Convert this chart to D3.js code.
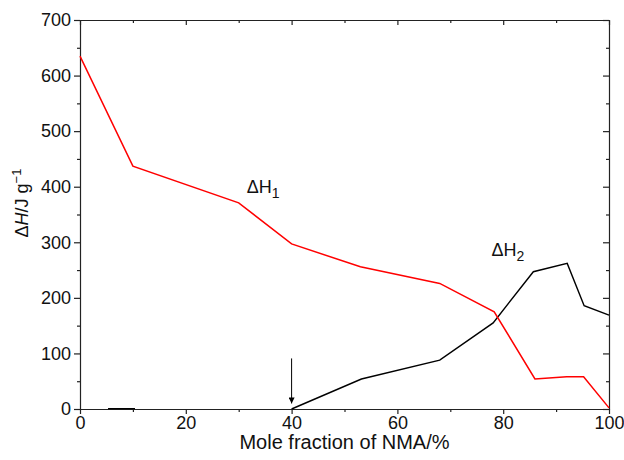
<!DOCTYPE html>
<html>
  <head>
    <meta charset="utf-8" />
    <script src="https://d3js.org/d3.v7.min.js"></script>
    <style>
      body { margin: 0; background: white; }
      text { font-family: "Liberation Sans", Arial, sans-serif; fill: #111; }
    </style>
  </head>
  <body>
    <svg id="canvas" width="624" height="460"></svg>
    <script>
      // ΔH1 (red)
      let h1X = [0, 10, 30, 40, 53, 68, 78.3, 86, 92, 95.2, 100];
      let h1Y = [635, 437, 371, 297, 256, 226, 175, 54, 58, 58, 2];
      // ΔH2 (black), gap between ~10 and 40
      let h2X = [5.3, 10.4, 20, 30, 40, 53.2, 68, 78.1, 85.7, 92.1, 95.3, 100];
      let h2Y = [0.6, 0.6, null, null, 0, 54, 88, 155, 247, 262, 186, 169];

      let xTicks = [0, 20, 40, 60, 80, 100];
      let xMinor = [10, 30, 50, 70, 90];
      let yTicks = [0, 100, 200, 300, 400, 500, 600, 700];
      let yMinor = [50, 150, 250, 350, 450, 550, 650];

      let margin = { left: 80, right: 15, top: 20, bottom: 51 };
      let width = 624 - margin.left - margin.right;
      let height = 460 - margin.top - margin.bottom;

      let svg = d3.select("#canvas");
      let chart = svg.append("g")
        .attr("transform", `translate(${margin.left},${margin.top})`);

      let xScale = d3.scaleLinear().domain([0, 100]).range([0, width]);
      let yScale = d3.scaleLinear().domain([0, 700]).range([height, 0]);

      function styleAxis(g) {
        g.select(".domain").attr("stroke", "#222").attr("stroke-width", 1.2);
        g.selectAll(".tick line").attr("stroke", "#222").attr("stroke-width", 1.2);
        g.selectAll(".tick text").style("font-size", "18px").attr("fill", "#111");
      }

      // bottom
      chart.append("g")
        .attr("transform", `translate(0,${height})`)
        .call(d3.axisBottom(xScale).tickValues(xTicks).tickSize(5).tickSizeOuter(0).tickPadding(2))
        .call(styleAxis);
      chart.append("g")
        .attr("transform", `translate(0,${height})`)
        .call(d3.axisBottom(xScale).tickValues(xMinor).tickSize(3).tickFormat(""))
        .call(styleAxis).select(".domain").remove();
      // top
      chart.append("g")
        .call(d3.axisTop(xScale).tickValues(xTicks).tickSize(-5).tickSizeOuter(0).tickFormat(""))
        .call(styleAxis);
      chart.append("g")
        .call(d3.axisTop(xScale).tickValues(xMinor).tickSize(-3).tickFormat(""))
        .call(styleAxis).select(".domain").remove();
      // left
      chart.append("g")
        .call(d3.axisLeft(yScale).tickValues(yTicks).tickSize(6).tickSizeOuter(0).tickPadding(3))
        .call(styleAxis);
      chart.append("g")
        .call(d3.axisLeft(yScale).tickValues(yMinor).tickSize(3).tickFormat(""))
        .call(styleAxis).select(".domain").remove();
      // right
      chart.append("g")
        .attr("transform", `translate(${width},0)`)
        .call(d3.axisRight(yScale).tickValues(yTicks).tickSize(-6).tickSizeOuter(0).tickFormat(""))
        .call(styleAxis);
      chart.append("g")
        .attr("transform", `translate(${width},0)`)
        .call(d3.axisRight(yScale).tickValues(yMinor).tickSize(-3).tickFormat(""))
        .call(styleAxis).select(".domain").remove();

      let line = d3.line()
        .defined((d) => d.y !== null)
        .x((d) => xScale(d.x))
        .y((d) => yScale(d.y));

      chart.append("path")
        .datum(h2X.map((x, i) => ({ x: x, y: h2Y[i] })))
        .attr("d", line)
        .attr("fill", "none")
        .attr("stroke", "#000")
        .attr("stroke-width", 1.4);

      chart.append("path")
        .datum(h1X.map((x, i) => ({ x: x, y: h1Y[i] })))
        .attr("d", line)
        .attr("fill", "none")
        .attr("stroke", "#ff0000")
        .attr("stroke-width", 1.5);

      // arrow at 40 %
      svg.append("defs").append("marker")
        .attr("id", "head")
        .attr("viewBox", "0 0 10 10")
        .attr("refX", 10).attr("refY", 5)
        .attr("markerWidth", 10).attr("markerHeight", 6)
        .attr("markerUnits", "userSpaceOnUse")
        .attr("orient", "auto")
        .append("path").attr("d", "M0,0 L10,5 L0,10 Z").attr("fill", "#000");
      chart.append("line")
        .attr("x1", xScale(40)).attr("x2", xScale(40))
        .attr("y1", yScale(91)).attr("y2", yScale(10))
        .attr("stroke", "#000").attr("stroke-width", 1)
        .attr("marker-end", "url(#head)");

      // series labels
      let labels = [
        { x: 31.5, y: 388, sub: "1" },
        { x: 77.8, y: 276, sub: "2" },
      ];
      labels.forEach((l) => {
        let t = chart.append("text")
          .attr("x", xScale(l.x)).attr("y", yScale(l.y))
          .style("font-size", "18px");
        t.append("tspan").text("ΔH");
        t.append("tspan").text(l.sub).attr("dy", 5).style("font-size", "14px");
      });

      // axis titles
      svg.append("text")
        .attr("x", margin.left + width / 2).attr("y", 449)
        .attr("text-anchor", "middle")
        .style("font-size", "20px")
        .text("Mole fraction of NMA/%");

      let yt = svg.append("text")
        .attr("transform", "translate(28,203) rotate(-90)")
        .attr("text-anchor", "middle")
        .style("font-size", "18px");
      yt.append("tspan").text("Δ");
      yt.append("tspan").text("H").style("font-style", "italic");
      yt.append("tspan").text("/J g");
      yt.append("tspan").text("−1").attr("dy", -7).style("font-size", "13px");
    </script>
  </body>
</html>
